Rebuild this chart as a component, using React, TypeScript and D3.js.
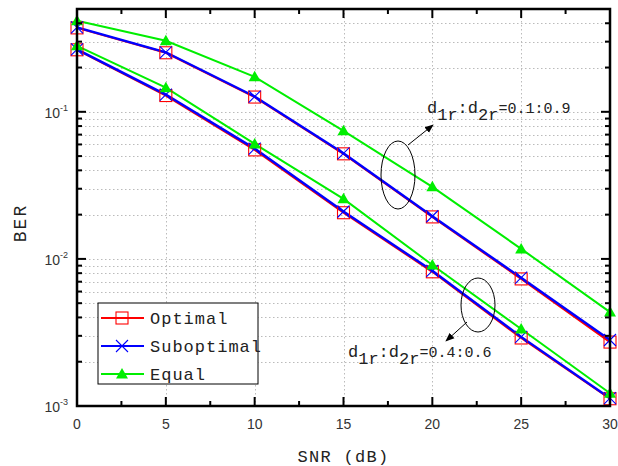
import React from "react";
import * as d3 from "d3";

const snr = [0, 5, 10, 15, 20, 25, 30];
const optUpper = [0.372, 0.252, 0.126, 0.0518, 0.0193, 0.00731, 0.00272];
const subUpper = [0.375, 0.254, 0.127, 0.0522, 0.0195, 0.00745, 0.00281];
const eqUpper = [0.416, 0.304, 0.173, 0.0743, 0.0309, 0.0117, 0.00435];
const optLower = [0.264, 0.129, 0.0551, 0.0206, 0.00817, 0.0029, 0.00112];
const subLower = [0.266, 0.131, 0.0562, 0.021, 0.0083, 0.00295, 0.00113];
const eqLower = [0.281, 0.146, 0.0605, 0.0256, 0.0091, 0.00334, 0.00122];
const xTicks = [0, 5, 10, 15, 20, 25, 30];
const xMinor = [2.5, 7.5, 12.5, 17.5, 22.5, 27.5];
const yDecades = [-3, -2, -1];
const legendLabels = ["Optimal", "Suboptimal", "Equal"];

const W = 618, H = 466;
const L = 77, R = 610, T = 9, B = 406;

const x = d3.scaleLinear().domain([0, 30]).range([L, R]);
const y = d3.scaleLog().domain([1e-3, 0.5]).range([B, T]);

const RED = "#ff0000", BLUE = "#0000ff", GREEN = "#00ee00";
const MONO = "'Liberation Mono', 'DejaVu Sans Mono', monospace";
const SANS = "'Liberation Sans', Arial, sans-serif";

function Square({ cx, cy }: { cx: number; cy: number }) {
  return <rect x={cx - 6} y={cy - 6} width={12} height={12} fill="none" stroke={RED} strokeWidth={1.1} />;
}
function Cross({ cx, cy }: { cx: number; cy: number }) {
  const s = 6;
  return (
    <path d={`M${cx - s},${cy - s}L${cx + s},${cy + s}M${cx - s},${cy + s}L${cx + s},${cy - s}`} stroke={BLUE} strokeWidth={1.1} fill="none" />
  );
}
function Tri({ cx, cy }: { cx: number; cy: number }) {
  const s = 6;
  return <path d={`M${cx},${cy - s}L${cx + s},${cy + s * 0.75}L${cx - s},${cy + s * 0.75}Z`} fill={GREEN} />;
}

export default function App() {
  const line = d3.line<number>().x((_, i) => x(snr[i])).y((v) => y(v));
  const minorY: number[] = [];
  for (const d of yDecades) for (let k = 2; k <= 9; k++) { const v = k * Math.pow(10, d); if (v <= 0.5) minorY.push(v); }
  const majorY = yDecades.map((d) => Math.pow(10, d));
  const series = [
    { data: optUpper, color: RED, w: 2, M: Square },
    { data: optLower, color: RED, w: 2, M: Square },
    { data: subUpper, color: BLUE, w: 2.4, M: Cross },
    { data: subLower, color: BLUE, w: 2.4, M: Cross },
    { data: eqUpper, color: GREEN, w: 2, M: Tri },
    { data: eqLower, color: GREEN, w: 2, M: Tri },
  ];
  const legendColors = [RED, BLUE, GREEN];
  const legendMarkers = [Square, Cross, Tri];
  return (
    <svg width={W} height={H} style={{ position: "absolute", left: 0, top: 0 }}>
      <rect width={W} height={H} fill="#fff" />
      <defs>
        <marker id="ah" viewBox="0 0 10 10" refX="9" refY="5" markerWidth="9" markerHeight="9" orient="auto">
          <path d="M0,1L10,5L0,9Z" fill="#000" />
        </marker>
      </defs>
      {/* grid */}
      <g stroke="#bbb" strokeWidth={1} strokeDasharray="1.5,2.5">
        {[...minorY, ...majorY].map((v, i) => (
          <line key={"gy" + i} x1={L} x2={R} y1={Math.round(y(v)) + 0.5} y2={Math.round(y(v)) + 0.5} />
        ))}
        {xTicks.slice(1, -1).map((v) => (
          <line key={"gx" + v} x1={Math.round(x(v)) + 0.5} x2={Math.round(x(v)) + 0.5} y1={T} y2={B} />
        ))}
      </g>
      {/* series */}
      {series.map((s, i) => (
        <path key={"l" + i} d={line(s.data) || ""} fill="none" stroke={s.color} strokeWidth={s.w} />
      ))}
      {series.map((s, i) =>
        s.data.map((v, j) => <s.M key={`m${i}-${j}`} cx={x(snr[j])} cy={y(v)} />)
      )}
      {/* frame */}
      <rect x={L} y={T} width={R - L} height={B - T} fill="none" stroke="#000" strokeWidth={2.5} />
      {/* ticks */}
      <g stroke="#000" strokeWidth={2}>
        {majorY.map((v) => (
          <g key={"ty" + v}>
            <line x1={L} x2={L + 9} y1={y(v)} y2={y(v)} />
            <line x1={R} x2={R - 9} y1={y(v)} y2={y(v)} />
          </g>
        ))}
        {minorY.map((v, i) => (
          <g key={"tmy" + i}>
            <line x1={L} x2={L + 5} y1={y(v)} y2={y(v)} />
            <line x1={R} x2={R - 5} y1={y(v)} y2={y(v)} />
          </g>
        ))}
        {xTicks.map((v) => (
          <g key={"tx" + v}>
            <line x1={x(v)} x2={x(v)} y1={B} y2={B - 9} />
            <line x1={x(v)} x2={x(v)} y1={T} y2={T + 9} />
          </g>
        ))}
        {xMinor.map((v) => (
          <g key={"tmx" + v}>
            <line x1={x(v)} x2={x(v)} y1={B} y2={B - 5} />
            <line x1={x(v)} x2={x(v)} y1={T} y2={T + 5} />
          </g>
        ))}
      </g>
      {/* tick labels */}
      <g fontFamily={SANS} fill="#333" fontSize={14}>
        {xTicks.map((v) => (
          <text key={"lx" + v} x={x(v)} y={B + 23} textAnchor="middle">{v}</text>
        ))}
        {yDecades.map((d) => (
          <text key={"ly" + d} x={L - 9} y={y(Math.pow(10, d)) + 6} textAnchor="end">
            10<tspan fontSize={9} dy={-7}>{d}</tspan>
          </text>
        ))}
      </g>
      {/* axis labels */}
      <text x={(L + R) / 2} y={462} textAnchor="middle" fontFamily={MONO} fontSize={17} letterSpacing={1.3} fill="#222">SNR (dB)</text>
      <text transform="translate(26,223) rotate(-90)" textAnchor="middle" fontFamily={MONO} fontSize={18} letterSpacing={2} fill="#222">BER</text>
      {/* legend */}
      <rect x={98} y={303} width={160} height={81} fill="#fff" stroke="#000" strokeWidth={1} />
      {legendLabels.map((lab, i) => {
        const ly = 318 + i * 28;
        const M = legendMarkers[i];
        return (
          <g key={lab}>
            <line x1={101} x2={144} y1={ly} y2={ly} stroke={legendColors[i]} strokeWidth={2} />
            <M cx={122} cy={ly} />
            <text x={150} y={ly + 6} fontFamily={MONO} fontSize={17} letterSpacing={1} fill="#222">{lab}</text>
          </g>
        );
      })}
      {/* annotations */}
      <ellipse cx={398} cy={175} rx={17} ry={34} fill="none" stroke="#000" strokeWidth={1} />
      <line x1={408} y1={145} x2={433} y2={125} stroke="#000" strokeWidth={1} markerEnd="url(#ah)" />
      <text x={427} y={113} fontFamily={MONO} fontSize={17} fill="#222">
        d<tspan dy={7}>1r</tspan><tspan dy={-7}>:d</tspan><tspan dy={7}>2r</tspan><tspan dy={-7} fontSize={15}>=0.1:0.9</tspan>
      </text>
      <ellipse cx={478} cy={305} rx={17} ry={27} fill="none" stroke="#000" strokeWidth={1} />
      <line x1={467} y1={322} x2={446} y2={341} stroke="#000" strokeWidth={1} markerEnd="url(#ah)" />
      <text x={348} y={357} fontFamily={MONO} fontSize={17} fill="#222">
        d<tspan dy={7}>1r</tspan><tspan dy={-7}>:d</tspan><tspan dy={7}>2r</tspan><tspan dy={-7} fontSize={15}>=0.4:0.6</tspan>
      </text>
    </svg>
  );
}
